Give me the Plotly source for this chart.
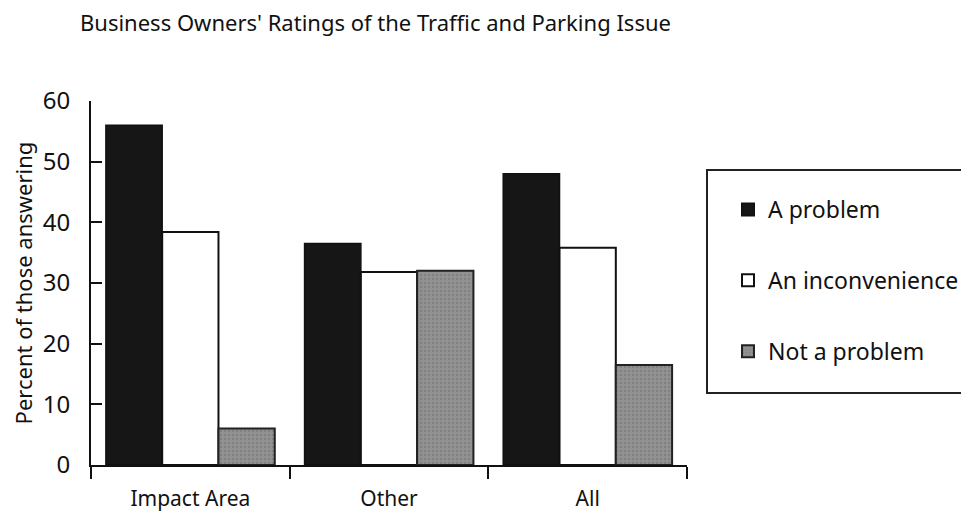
import plotly.graph_objects as go

areas = ["Impact Area", "Other", "All"]
a_problem = [56, 36.5, 48]
inconvenience = [38.4, 31.8, 35.8]
not_problem = [6, 32, 16.5]

FONT = "Noto Sans"
# page body has an 8px margin, so the plot box is placed 8px up/left of the target pixels
OFF = 8

fig = go.Figure()
fig.add_trace(go.Bar(name="A problem", x=areas, y=a_problem, legendgroup="a",
                     marker=dict(color="#161616", line=dict(color="#111", width=1.5))))
fig.add_trace(go.Bar(name="An inconvenience", x=areas, y=inconvenience, legendgroup="b",
                     marker=dict(color="white", line=dict(color="#111", width=2))))
fig.add_trace(go.Bar(name="Not a problem", x=areas, y=not_problem, legendgroup="c",
                     marker=dict(color="#8c8c8c", line=dict(color="#222", width=2),
                                 pattern=dict(shape=".", fgcolor="#6e6e6e", bgcolor="#929292",
                                              size=4, solidity=0.3))))

# legend frame
fig.add_shape(type="rect", xref="paper", yref="paper",
              x0=(707 - 91) / 596, x1=(965 - 91) / 596,
              y0=(465 - 393) / 364, y1=(465 - 170) / 364,
              line=dict(color="#222", width=2), fillcolor="rgba(0,0,0,0)")

fig.update_layout(
    width=969, height=515,
    margin=dict(l=91 - OFF, r=969 - 687 + OFF, t=101 - OFF, b=515 - 465 + OFF),
    paper_bgcolor="white", plot_bgcolor="white",
    font=dict(family=FONT, color="#111"),
    barmode="group", bargap=0.15, bargroupgap=0,
    title=dict(text="Business Owners' Ratings of the Traffic and Parking Issue",
               x=(80 - OFF) / 969, xref="container", xanchor="left",
               y=1 - (23 - OFF) / 515, yref="container", yanchor="middle",
               font=dict(size=22, family=FONT, color="#111")),
    legend=dict(x=(728 - 91) / 596, y=(465 - 188) / 364, xanchor="left", yanchor="top",
                font=dict(size=23, family=FONT), bgcolor="rgba(0,0,0,0)",
                traceorder="grouped", tracegroupgap=38, itemsizing="constant"),
    xaxis=dict(showline=True, linecolor="#111", linewidth=2, tickson="boundaries",
               ticks="outside", ticklen=12, tickwidth=2, tickcolor="#111",
               ticklabelstandoff=14, tickfont=dict(size=21), showgrid=False,
               automargin=False),
    yaxis=dict(range=[0, 60], dtick=10, showline=True, linecolor="#111", linewidth=2,
               ticks="inside", ticklen=11, tickwidth=2, tickcolor="#111",
               ticklabelstandoff=14, tickfont=dict(size=24), showgrid=False, zeroline=False,
               automargin=False,
               title=dict(text="Percent of those answering", font=dict(size=22), standoff=10)),
)

fig.write_html("out.html")
